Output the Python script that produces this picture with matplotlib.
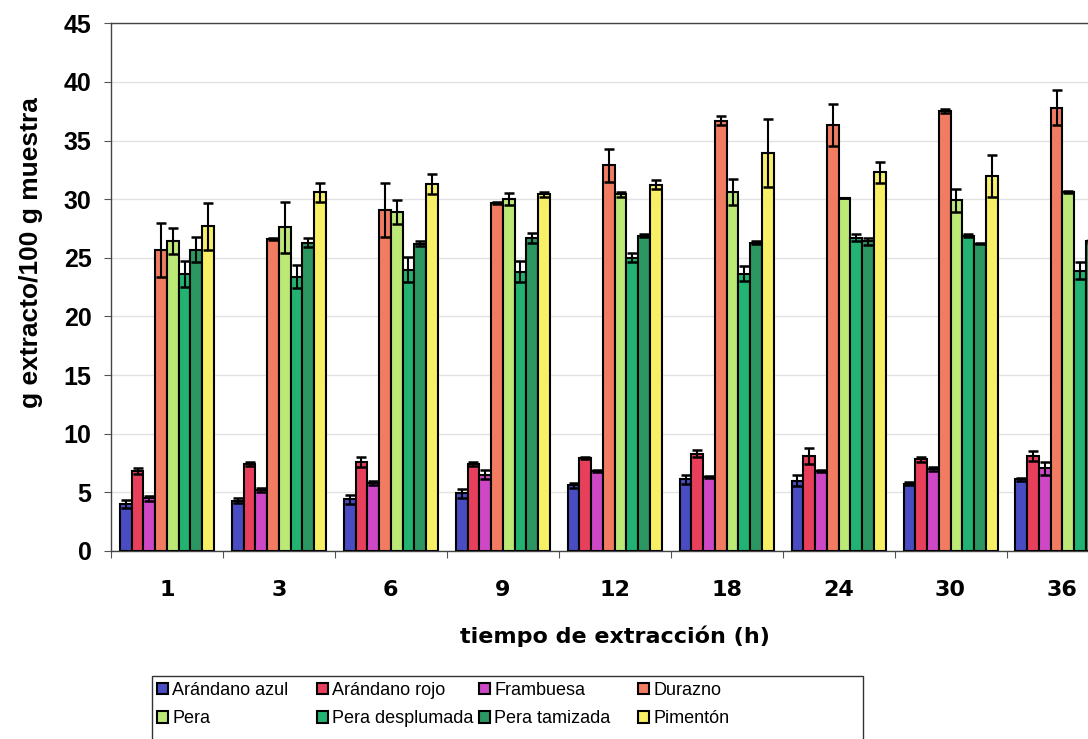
import numpy as np
import matplotlib.pyplot as plt
from matplotlib.patches import Rectangle

times = ["1", "3", "6", "9", "12", "18", "24", "30", "36"]

series = ["Arándano azul", "Arándano rojo", "Frambuesa", "Durazno",
          "Pera", "Pera desplumada", "Pera tamizada", "Pimentón"]

azul = [4.0, 4.3, 4.4, 4.9, 5.6, 6.1, 6.0, 5.75, 6.1]
azul_err = [0.35, 0.2, 0.4, 0.4, 0.2, 0.4, 0.5, 0.1, 0.1]
rojo = [6.8, 7.4, 7.6, 7.4, 7.9, 8.3, 8.1, 7.8, 8.1]
rojo_err = [0.25, 0.15, 0.4, 0.15, 0.1, 0.3, 0.7, 0.25, 0.4]
frambuesa = [4.5, 5.2, 5.8, 6.5, 6.8, 6.3, 6.8, 7.0, 7.05]
frambuesa_err = [0.2, 0.15, 0.2, 0.4, 0.1, 0.1, 0.1, 0.2, 0.55]
durazno = [25.7, 26.6, 29.1, 29.7, 32.9, 36.7, 36.3, 37.5, 37.8]
durazno_err = [2.3, 0.1, 2.3, 0.1, 1.4, 0.35, 1.8, 0.15, 1.5]
pera = [26.4, 27.6, 28.9, 30.0, 30.4, 30.6, 30.1, 29.9, 30.6]
pera_err = [1.1, 2.2, 1.0, 0.5, 0.2, 1.1, 0.0, 1.0, 0.1]
desplumada = [23.6, 23.4, 24.0, 23.8, 25.0, 23.65, 26.7, 26.9, 23.9]
desplumada_err = [1.1, 1.0, 1.1, 0.9, 0.4, 0.65, 0.3, 0.15, 0.7]
tamizada = [25.7, 26.3, 26.2, 26.7, 26.9, 26.3, 26.4, 26.2, 26.4]
tamizada_err = [1.1, 0.4, 0.2, 0.4, 0.1, 0.1, 0.3, 0.05, 0.1]
pimenton = [27.7, 30.6, 31.3, 30.4, 31.25, 33.9, 32.3, 32.0, 32.1]
pimenton_err = [2.0, 0.8, 0.85, 0.2, 0.4, 2.9, 0.9, 1.8, 2.2]

values = [azul, rojo, frambuesa, durazno, pera, desplumada, tamizada, pimenton]
errors = [azul_err, rojo_err, frambuesa_err, durazno_err,
          pera_err, desplumada_err, tamizada_err, pimenton_err]
colors = ["#4a4cc4", "#e8405c", "#cc48c4", "#f27c62",
          "#bce878", "#22b272", "#2a9860", "#f8f064"]

bold_dv = {"family": "DejaVu Sans", "weight": "bold"}

fig = plt.figure(figsize=(10.88, 7.39), dpi=100)
# plot area runs past the right edge, like the cropped original
ax = fig.add_axes([0.102, 0.2545, 0.926, 0.714])

x = np.arange(len(times))
w = 0.105
handles = []
for i, (vals, errs, c) in enumerate(zip(values, errors, colors)):
    pos = x + (i - 3.5) * w
    b = ax.bar(pos, vals, width=w, color=c, edgecolor="black", linewidth=1.5,
               label=series[i], zorder=3)
    ax.errorbar(pos, vals, yerr=errs, fmt="none", ecolor="black",
                elinewidth=1.5, capsize=3.3, capthick=1.8, zorder=4)
    handles.append(b)

ax.set_xlim(-0.5, len(times) - 0.5)
ax.set_ylim(0, 45)
ax.set_yticks(np.arange(0, 50, 5))
ax.set_yticklabels([str(v) for v in range(0, 50, 5)], fontsize=18,
                   fontweight="bold", family="Liberation Sans")
ax.set_xticks(x)
ax.set_xticklabels(times, fontsize=16, **bold_dv)
ax.tick_params(axis="x", length=0, pad=21)
ax.set_xticks(np.arange(-0.5, len(times), 1), minor=True)
ax.tick_params(axis="x", which="minor", length=5, width=0.8, color="#555555")
ax.tick_params(axis="y", length=5, width=0.8, color="#555555", pad=9)

ax.grid(axis="y", color="#e2e2e2", linewidth=1.0, zorder=0)
for s in ax.spines.values():
    s.set_color("#444444")
    s.set_linewidth(1.0)

ax.set_xlabel("tiempo de extracción (h)", fontsize=16, labelpad=18, **bold_dv)
ax.set_ylabel("g extracto/100 g muestra", fontsize=19, fontweight="bold",
              family="Liberation Sans")
ax.yaxis.set_label_coords(-0.067, 0.566)

# legend: 4 fixed-width columns, filled row by row
col_x = [157, 317, 479, 638]
for j, xc in enumerate(col_x):
    idx = [j, j + 4]
    fig.legend([handles[k] for k in idx], [series[k] for k in idx],
               loc="upper left", bbox_to_anchor=(xc / 1088, 1 - 682 / 739),
               frameon=False, borderpad=0, borderaxespad=0,
               prop={"family": "Liberation Sans", "size": 13},
               handlelength=0.6, handleheight=0.6, handletextpad=0.25,
               labelspacing=0.62)
fig.patches.append(Rectangle((152 / 1088, -0.02), (863 - 152) / 1088,
                             0.02 + (1 - 676 / 739), transform=fig.transFigure,
                             fill=False, edgecolor="#333333", linewidth=1.0))

fig.savefig("out.png", dpi=100)
